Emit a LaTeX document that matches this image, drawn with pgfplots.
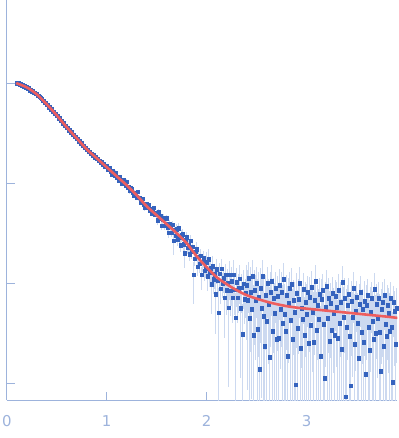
\documentclass[border=0pt]{standalone}
\usepackage{fontspec}
\setmainfont{DejaVu Sans}
\usepackage{pgfplots}
\usepackage{pgfplotstable}
\pgfplotsset{compat=1.18}
\definecolor{axcol}{HTML}{9DB3DC}
\definecolor{ptcol}{HTML}{3563BE}
\definecolor{errcol}{HTML}{CCD9F0}
\definecolor{fitcol}{HTML}{EE5E5E}
\pgfplotstableread{
x y ep em
0.10 3.002 0.008 0.008
0.11 2.995 0.008 0.008
0.12 3.003 0.008 0.008
0.13 2.990 0.008 0.008
0.14 2.992 0.008 0.008
0.15 2.979 0.008 0.008
0.16 2.988 0.008 0.008
0.17 2.973 0.008 0.008
0.18 2.981 0.008 0.008
0.19 2.960 0.008 0.008
0.20 2.964 0.008 0.008
0.21 2.947 0.008 0.008
0.22 2.952 0.008 0.008
0.23 2.933 0.008 0.008
0.24 2.938 0.008 0.008
0.25 2.921 0.008 0.008
0.26 2.925 0.008 0.008
0.27 2.905 0.008 0.008
0.28 2.910 0.008 0.008
0.29 2.893 0.008 0.008
0.30 2.896 0.008 0.008
0.31 2.874 0.008 0.008
0.32 2.876 0.008 0.008
0.33 2.864 0.008 0.008
0.34 2.853 0.008 0.008
0.35 2.843 0.008 0.008
0.36 2.826 0.008 0.008
0.37 2.824 0.008 0.008
0.38 2.806 0.008 0.008
0.39 2.803 0.008 0.008
0.40 2.785 0.008 0.008
0.41 2.784 0.008 0.008
0.42 2.761 0.008 0.008
0.43 2.763 0.008 0.008
0.44 2.739 0.008 0.008
0.45 2.741 0.008 0.008
0.46 2.717 0.008 0.008
0.47 2.719 0.008 0.008
0.48 2.695 0.008 0.008
0.49 2.697 0.008 0.008
0.50 2.674 0.008 0.008
0.51 2.675 0.008 0.008
0.52 2.649 0.008 0.008
0.53 2.651 0.008 0.008
0.54 2.626 0.008 0.008
0.55 2.628 0.008 0.008
0.56 2.601 0.008 0.008
0.57 2.602 0.008 0.008
0.58 2.578 0.008 0.008
0.59 2.579 0.008 0.008
0.60 2.554 0.008 0.008
0.61 2.555 0.008 0.008
0.62 2.531 0.008 0.008
0.63 2.533 0.008 0.008
0.64 2.509 0.008 0.008
0.65 2.511 0.008 0.008
0.66 2.488 0.008 0.008
0.67 2.490 0.008 0.008
0.68 2.465 0.008 0.008
0.69 2.468 0.008 0.008
0.70 2.444 0.008 0.008
0.71 2.445 0.008 0.008
0.72 2.421 0.008 0.008
0.73 2.423 0.008 0.008
0.74 2.398 0.008 0.008
0.75 2.402 0.008 0.008
0.76 2.376 0.008 0.008
0.77 2.380 0.008 0.008
0.78 2.354 0.008 0.008
0.79 2.357 0.008 0.008
0.80 2.334 0.008 0.008
0.81 2.336 0.008 0.008
0.82 2.315 0.008 0.008
0.83 2.318 0.008 0.008
0.84 2.296 0.008 0.008
0.85 2.300 0.008 0.008
0.86 2.279 0.008 0.008
0.87 2.283 0.008 0.008
0.88 2.260 0.008 0.008
0.89 2.266 0.008 0.008
0.90 2.244 0.01 0.01
0.91 2.246 0.01 0.01
0.92 2.225 0.01 0.01
0.93 2.230 0.01 0.01
0.94 2.207 0.01 0.01
0.95 2.215 0.01 0.01
0.96 2.190 0.01 0.01
0.97 2.196 0.01 0.01
0.98 2.171 0.01 0.01
0.99 2.178 0.01 0.01
1.00 2.172 0.02 0.025
1.01 2.133 0.02 0.025
1.02 2.147 0.02 0.025
1.03 2.155 0.02 0.025
1.04 2.114 0.02 0.025
1.05 2.090 0.02 0.025
1.06 2.121 0.02 0.025
1.07 2.097 0.02 0.025
1.08 2.080 0.02 0.025
1.09 2.109 0.02 0.025
1.10 2.055 0.02 0.025
1.11 2.069 0.02 0.025
1.12 2.030 0.02 0.025
1.13 2.061 0.02 0.025
1.14 2.037 0.02 0.025
1.15 1.995 0.02 0.025
1.16 2.026 0.02 0.025
1.17 2.032 0.02 0.025
1.18 1.993 0.02 0.025
1.19 1.974 0.02 0.025
1.20 2.020 0.02 0.025
1.21 1.960 0.02 0.025
1.22 1.965 0.02 0.025
1.23 1.922 0.02 0.025
1.24 1.954 0.02 0.025
1.25 1.950 0.02 0.025
1.26 1.908 0.02 0.025
1.27 1.875 0.02 0.025
1.28 1.908 0.02 0.025
1.29 1.906 0.02 0.025
1.30 1.860 0.02 0.025
1.31 1.914 0.02 0.025
1.32 1.852 0.02 0.025
1.33 1.859 0.02 0.025
1.34 1.811 0.02 0.025
1.35 1.827 0.02 0.025
1.36 1.842 0.02 0.025
1.37 1.788 0.02 0.025
1.38 1.752 0.02 0.025
1.39 1.791 0.02 0.025
1.40 1.792 0.02 0.025
1.41 1.753 0.02 0.025
1.42 1.782 0.02 0.025
1.43 1.725 0.02 0.025
1.44 1.740 0.02 0.025
1.45 1.695 0.02 0.025
1.46 1.731 0.02 0.025
1.47 1.757 0.02 0.025
1.48 1.686 0.02 0.025
1.49 1.693 0.02 0.025
1.50 1.700 0.035 0.045
1.51 1.631 0.035 0.045
1.52 1.712 0.035 0.045
1.53 1.643 0.035 0.045
1.54 1.674 0.035 0.045
1.55 1.575 0.035 0.045
1.56 1.636 0.035 0.045
1.57 1.657 0.035 0.045
1.58 1.578 0.035 0.045
1.59 1.599 0.035 0.045
1.60 1.650 0.035 0.045
1.61 1.561 0.035 0.045
1.62 1.502 0.035 0.045
1.63 1.593 0.035 0.045
1.64 1.564 0.035 0.045
1.65 1.505 0.035 0.045
1.66 1.586 0.035 0.045
1.67 1.427 0.08 0.15
1.68 1.538 0.035 0.045
1.69 1.479 0.035 0.045
1.70 1.540 0.05 0.07
1.71 1.440 0.05 0.07
1.72 1.550 0.05 0.07
1.73 1.460 0.05 0.07
1.74 1.380 0.05 0.07
1.75 1.480 0.05 0.07
1.76 1.490 0.05 0.07
1.77 1.390 0.05 0.07
1.78 1.300 0.08 0.15
1.79 1.430 0.05 0.07
1.80 1.460 0.05 0.07
1.81 1.357 0.05 0.07
1.82 1.384 0.05 0.07
1.83 1.291 0.05 0.07
1.84 1.428 0.05 0.07
1.85 1.315 0.05 0.07
1.86 1.362 0.05 0.07
1.87 1.089 0.12 0.30
1.88 1.246 0.05 0.07
1.89 1.313 0.05 0.07
1.90 1.340 0.07 0.10
1.91 1.169 0.07 0.10
1.92 1.268 0.07 0.10
1.93 1.197 0.07 0.10
1.94 1.276 0.07 0.10
1.95 1.085 0.08 0.15
1.96 1.214 0.07 0.10
1.97 1.253 0.07 0.10
1.98 1.122 0.07 0.10
1.99 1.151 0.07 0.10
2.00 1.210 0.10 0.15
2.01 1.070 0.10 0.15
2.02 1.240 0.10 0.15
2.03 1.110 0.10 0.15
2.04 1.150 0.10 0.15
2.05 0.990 0.15 0.30
2.06 1.170 0.10 0.15
2.07 1.040 0.10 0.15
2.08 1.090 0.10 0.15
2.09 0.890 0.18 0.40
2.10 1.140 0.10 0.15
2.11 1.023 0.10 0.15
2.12 0.706 0.25 3
2.13 1.099 0.10 0.15
2.14 0.942 0.10 0.15
2.15 1.145 0.10 0.15
2.16 0.998 0.10 0.15
2.17 1.051 0.10 0.15
2.18 0.854 0.18 0.40
2.19 1.087 0.10 0.15
2.20 0.930 0.14 0.25
2.21 1.004 0.14 0.25
2.22 0.758 0.22 0.80
2.23 1.082 0.14 0.25
2.24 0.926 0.14 0.25
2.25 1.020 0.14 0.25
2.26 0.854 0.14 0.25
2.27 1.088 0.14 0.25
2.28 0.932 0.14 0.25
2.29 0.656 0.25 3
2.30 1.010 0.14 0.25
2.31 0.855 0.14 0.25
2.32 0.950 0.14 0.25
2.33 1.045 0.14 0.25
2.34 0.750 0.22 0.70
2.35 0.955 0.14 0.25
2.36 0.490 0.30 3
2.37 0.995 0.14 0.25
2.38 0.840 0.14 0.25
2.39 0.905 0.14 0.25
2.40 0.98 0.20 0.55
2.41 0.83 0.30 0.9
2.42 1.05 0.16 0.35
2.43 0.65 0.38 1.0
2.44 0.91 0.25 0.6
2.45 0.74 0.30 0.9
2.46 1.07 0.16 0.35
2.47 0.48 0.50 3
2.48 0.93 0.20 0.55
2.49 0.83 0.25 0.6
2.50 1.00 0.16 0.35
2.51 0.54 0.50 3
2.52 0.86 0.25 0.6
2.53 0.14 0.70 3
2.54 0.95 0.20 0.55
2.55 0.75 0.30 0.9
2.56 1.07 0.16 0.35
2.57 0.67 0.38 1.0
2.58 0.37 0.50 3
2.59 0.88 0.20 0.55
2.60 0.62 0.38 1.0
2.61 1.00 0.16 0.35
2.62 0.79 0.25 0.6
2.63 0.26 0.70 3
2.64 0.91 0.20 0.55
2.65 1.02 0.16 0.35
2.66 0.52 0.38 1.0
2.67 0.85 0.20 0.55
2.68 0.70 0.30 0.9
2.69 0.95 0.16 0.35
2.70 0.44 0.50 3
2.71 0.87 0.20 0.55
2.72 0.45 0.50 3
2.73 0.98 0.16 0.35
2.74 0.74 0.25 0.6
2.75 0.91 0.20 0.55
2.76 0.60 0.38 1.0
2.77 1.04 0.16 0.35
2.78 0.69 0.30 0.9
2.79 0.52 0.38 1.0
2.80 0.88 0.20 0.55
2.81 0.27 0.70 3
2.82 0.80 0.25 0.6
2.83 0.95 0.16 0.35
2.84 0.63 0.30 0.9
2.85 0.99 0.16 0.35
2.86 0.44 0.50 3
2.87 0.83 0.20 0.55
2.88 0.71 0.30 0.9
2.89 -0.02 0.70 3
2.90 0.90 0.20 0.55
2.91 0.55 0.38 1.0
2.92 0.84 0.20 0.55
2.93 1.00 0.16 0.35
2.94 0.35 0.50 3
2.95 0.75 0.25 0.6
2.96 0.64 0.30 0.9
2.97 0.94 0.16 0.35
2.98 0.48 0.38 1.0
2.99 0.81 0.20 0.55
3.00 0.69 0.30 0.9
3.01 0.91 0.16 0.35
3.02 0.40 0.50 3
3.03 0.86 0.20 0.55
3.04 0.58 0.38 1.0
3.05 0.96 0.16 0.35
3.06 0.71 0.25 0.6
3.07 0.41 0.50 3
3.08 0.83 0.20 0.55
3.09 1.02 0.16 0.35
3.10 0.53 0.38 1.0
3.11 0.78 0.20 0.55
3.12 0.64 0.30 0.9
3.13 0.89 0.16 0.35
3.14 0.27 0.50 3
3.15 0.84 0.20 0.55
3.16 0.93 0.16 0.35
3.17 0.59 0.30 0.9
3.18 0.05 0.70 3
3.19 0.76 0.25 0.6
3.20 0.97 0.16 0.35
3.21 0.65 0.30 0.9
3.22 0.85 0.20 0.55
3.23 0.42 0.50 3
3.24 0.80 0.20 0.55
3.25 0.53 0.38 1.0
3.26 0.90 0.16 0.35
3.27 0.70 0.25 0.6
3.28 0.48 0.38 1.0
3.29 0.87 0.16 0.35
3.30 0.76 0.25 0.6
3.31 0.45 0.38 1.0
3.32 0.93 0.16 0.35
3.33 0.60 0.30 0.9
3.34 0.81 0.20 0.55
3.35 0.34 0.50 3
3.36 1.01 0.16 0.35
3.37 0.66 0.30 0.9
3.38 0.85 0.20 0.55
3.39 -0.14 0.70 3
3.40 0.56 0.38 1.0
3.41 0.78 0.20 0.55
3.42 0.89 0.16 0.35
3.43 0.47 0.38 1.0
3.44 -0.03 0.70 3
3.45 0.82 0.20 0.55
3.46 0.66 0.25 0.6
3.47 0.95 0.16 0.35
3.48 0.39 0.50 3
3.49 0.72 0.25 0.6
3.50 0.86 0.16 0.35
3.51 0.60 0.30 0.9
3.52 0.25 0.50 3
3.53 0.79 0.20 0.55
3.54 0.91 0.16 0.35
3.55 0.51 0.38 1.0
3.56 0.74 0.20 0.55
3.57 0.41 0.38 1.0
3.58 0.82 0.20 0.55
3.59 0.09 0.70 3
3.60 0.78 0.20 0.55
3.61 0.88 0.16 0.35
3.62 0.56 0.30 0.9
3.63 0.33 0.50 3
3.64 0.71 0.25 0.6
3.65 0.85 0.16 0.35
3.66 0.62 0.30 0.9
3.67 0.44 0.38 1.0
3.68 0.94 0.16 0.35
3.69 0.50 0.38 1.0
3.70 0.79 0.20 0.55
3.71 0.65 0.25 0.6
3.72 0.85 0.16 0.35
3.73 0.51 0.38 1.0
3.74 0.12 0.70 3
3.75 0.74 0.20 0.55
3.76 0.81 0.20 0.55
3.77 0.37 0.50 3
3.78 0.88 0.16 0.35
3.79 0.59 0.30 0.9
3.80 0.47 0.38 1.0
3.81 0.78 0.20 0.55
3.82 0.70 0.25 0.6
3.83 0.52 0.38 1.0
3.84 0.85 0.16 0.35
3.85 0.56 0.30 0.9
3.86 0.01 0.70 3
3.87 0.81 0.16 0.35
3.88 0.72 0.20 0.55
3.89 0.39 0.38 1.0
3.90 0.75 0.20 0.55
}\saxsdata
\begin{document}
\begin{tikzpicture}
\begin{axis}[
  scale only axis,
  width=391bp, height=400bp,
  xmin=0, xmax=3.91,
  ymin=-0.17, ymax=3.83,
  axis x line*=bottom,
  axis y line*=left,
  axis line style={draw=axcol, line width=0.9bp},
  xtick={0,1,2,3},
  ytick={0,1,2,3},
  yticklabels={},
  minor tick num=0,
  tick align=inside,
  major tick length=8bp,
  tick style={draw=axcol, line width=0.9bp},
  /pgf/number format/assume math mode=true,
  xticklabel style={font=\fontsize{15}{18}\selectfont, text=axcol, inner sep=0pt, yshift=-15bp},
  clip mode=individual,
]
\addplot[no markers, draw=none,
  error bars/.cd, y dir=both, y explicit, error mark=none,
  error bar style={draw=errcol, solid, line width=0.6bp}]
  table[x=x, y=y, y error plus=ep, y error minus=em] {\saxsdata};
\addplot[only marks, color=ptcol, mark=square*, mark size=1.6bp,
  mark options={solid, fill=ptcol, draw=ptcol, line width=0.3bp}]
  table[x=x, y=y] {\saxsdata};
\addplot[color=fitcol, line width=2.6bp, smooth, line cap=round] coordinates {
(0.10,3.00) (0.20,2.96) (0.30,2.89) (0.40,2.79) (0.50,2.68) (0.60,2.56)
(0.70,2.45) (0.80,2.34) (0.90,2.25) (1.00,2.16) (1.10,2.07) (1.20,1.98)
(1.30,1.88) (1.40,1.77) (1.50,1.68) (1.60,1.59) (1.70,1.50) (1.80,1.40)
(1.90,1.27) (2.00,1.16) (2.10,1.06) (2.20,0.99) (2.30,0.93) (2.40,0.88)
(2.50,0.845) (2.60,0.815) (2.70,0.79) (2.80,0.77) (2.90,0.755) (3.00,0.745)
(3.20,0.725) (3.40,0.705) (3.60,0.685) (3.80,0.665) (3.91,0.652)
};
\end{axis}
\path ([xshift=-5bp,yshift=-38bp]current axis.south west) rectangle (current axis.north east);
\end{tikzpicture}
\end{document}
